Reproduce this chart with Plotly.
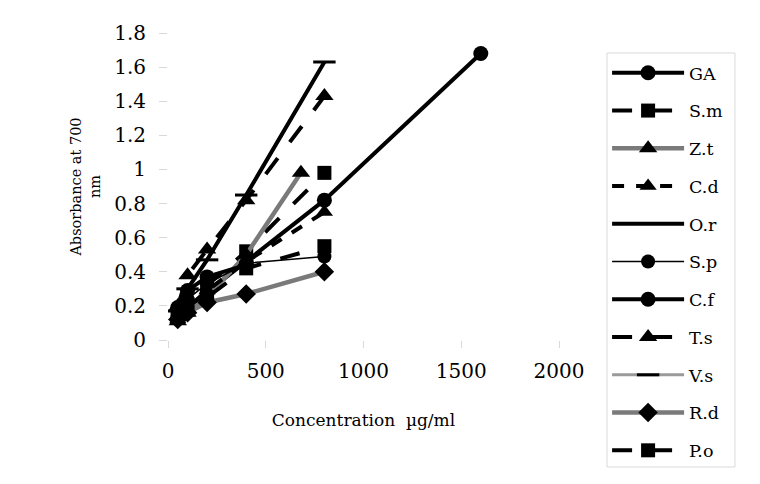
import plotly.graph_objects as go

names = ["GA", "S.m", "Z.t", "C.d", "O.r", "S.p", "C.f", "T.s", "V.s", "R.d", "P.o"]
x_std = [50, 100, 200, 400, 800]
x_ga = [50, 100, 200, 400, 800, 1600]
x_zt = [50, 100, 200, 400, 680]
x_cf = [50, 100, 200, 400]

y_ga = [0.13, 0.18, 0.28, 0.46, 0.82, 1.68]
y_sm = [0.15, 0.21, 0.32, 0.52, 0.98]
y_zt = [0.11, 0.16, 0.25, 0.50, 0.98]
y_cd = [0.12, 0.19, 0.29, 0.46, 0.75]
y_or = [0.17, 0.30, 0.47, 0.85, 1.63]
y_sp = [0.16, 0.24, 0.33, 0.45, 0.49]
y_cf = [0.19, 0.29, 0.37, 0.44]
y_ts = [0.20, 0.38, 0.53, 0.82, 1.43]
y_vs = [0.17, 0.30, 0.47, 0.85, 1.63]
y_rd = [0.12, 0.16, 0.22, 0.27, 0.40]
y_po = [0.13, 0.18, 0.25, 0.42, 0.55]

series = [
    # name, x, y, color, width, dash, symbol, msize, zorder
    ("GA", x_ga, y_ga, "black", 4, "solid", "circle", 15, 1),
    ("S.m", x_std, y_sm, "black", 4, "longdash", "square", 14, 1),
    ("Z.t", x_zt, y_zt, "#7a7a7a", 4.5, "solid", "triangle-up", 16, 1),
    ("C.d", x_std, y_cd, "black", 4, "dash", "triangle-up", 15, 1),
    ("O.r", x_std, y_or, "black", 4, "solid", None, 0, 1),
    ("S.p", x_std, y_sp, "black", 1.5, "solid", "circle", 14, 1),
    ("C.f", x_cf, y_cf, "black", 4, "solid", "circle", 15, 1),
    ("T.s", x_std, y_ts, "black", 4, "longdash", "triangle-up", 16, 1),
    ("V.s", x_std, y_vs, "#9a9a9a", 3, "solid", "line-ew", 16, 0),
    ("R.d", x_std, y_rd, "#7a7a7a", 4.5, "solid", "diamond", 15, 1),
    ("P.o", x_std, y_po, "black", 4, "longdash", "square", 14, 1),
]

fig = go.Figure()
for name, xs, ys, col, w, dash, sym, ms, z in series:
    mode = "lines+markers" if sym else "lines"
    marker = dict(symbol=sym, size=ms, color="black",
                  line=dict(color="black", width=3 if sym == "line-ew" else 0)) if sym else None
    fig.add_trace(go.Scatter(
        x=xs, y=ys, name=name, mode=mode,
        line=dict(color=col, width=w, dash=dash),
        marker=marker, zorder=z, legendgroup=name,
    ))

font = "DejaVu Serif, serif"
fig.update_layout(
    width=760, height=484,
    margin=dict(l=160, r=209, t=25, b=152),
    paper_bgcolor="white", plot_bgcolor="white",
    font=dict(family=font, size=17, color="black"),
    showlegend=True,
    legend=dict(
        x=1.123, y=-0.42, xanchor="left", yanchor="bottom",
        bgcolor="rgba(0,0,0,0)", borderwidth=0,
        font=dict(family=font, size=17.5),
        itemwidth=72, maxheight=480, tracegroupgap=12,
    ),
    shapes=[dict(type="rect", xref="paper", yref="paper",
                 x0=1.1228, x1=1.450, y0=-0.4137, y1=0.935,
                 line=dict(color="#d9d9d9", width=1), layer="below")],
    xaxis=dict(
        range=[0, 2000], tickvals=[0, 500, 1000, 1500, 2000],
        showgrid=False, zeroline=False, showline=True, linecolor="#d9d9d9",
        ticks="outside", tickcolor="#d9d9d9", ticklen=7, ticklabelstandoff=6,
        title=dict(text="Concentration  µg/ml", font=dict(size=17), standoff=32),
        tickfont=dict(size=20),
    ),
    yaxis=dict(
        range=[0, 1.8], tickvals=[0, 0.2, 0.4, 0.6, 0.8, 1, 1.2, 1.4, 1.6, 1.8],
        ticktext=["0", "0.2", "0.4", "0.6", "0.8", "1", "1.2", "1.4", "1.6", "1.8"],
        showgrid=False, zeroline=False, showline=True, linecolor="#d9d9d9",
        ticks="outside", tickcolor="#d9d9d9", ticklen=8, ticklabelstandoff=9,
        title=dict(text="Absorbance at 700<br>nm", font=dict(size=14.5), standoff=10),
        tickfont=dict(size=20),
    ),
)
fig.write_html("out.html")
